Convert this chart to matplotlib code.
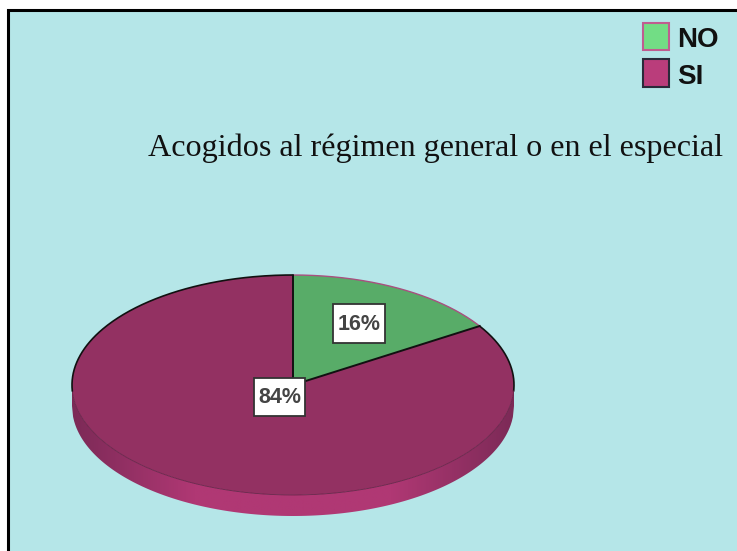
import matplotlib
matplotlib.use("Agg")
import matplotlib.pyplot as plt
import numpy as np
from matplotlib.patches import Rectangle

labels = ["NO", "SI"]
values = [16, 84]
pct_labels = ["16%", "84%"]
title = "Acogidos al régimen general o en el especial"

W, H = 737, 551
bg = "#B5E6E8"
top_colors = ["#58AC68", "#933162"]
legend_colors = ["#72DD85", "#BA3D7B"]
legend_edges = ["#C05C90", "#2A2A3A"]
rim_dark = np.array([0x7C, 0x2A, 0x57]) / 255
rim_light = np.array([0xB0, 0x38, 0x74]) / 255

cx, cy, rx, ry, depth = 293, 385, 221, 110, 21


def px_x(x):
    return x / W


def px_y(y):
    return 1 - y / H


def draw_rim(ax, d):
    # side of the disc, gradient clipped to the strip under the lower half
    xs = np.linspace(-1, 1, 400)
    low = -np.sqrt(1 - xs ** 2)
    rim = ax.fill_between(xs, low - d, low, color="none", lw=0)
    t = np.clip((1 - np.abs(xs)) * 1.8, 0, 1)[None, :, None]
    grad = rim_dark + (rim_light - rim_dark) * t
    im = ax.imshow(grad, extent=(-1, 1, -1 - d, 0), aspect="auto", zorder=1)
    im.set_clip_path(rim.get_paths()[0], transform=ax.transData)


def arc(ax, a0, a1, color, lw):
    t = np.deg2rad(np.linspace(a0, a1, 200))
    ax.plot(np.cos(t), np.sin(t), color=color, lw=lw, zorder=4, clip_on=False)


def draw_outline(ax):
    # edge of the top face: black on the upper part, faint along the bottom
    split = 90 - 360 * values[0] / sum(values)
    arc(ax, 90, split, "#A8507F", 1.0)
    arc(ax, split, -3, "#111111", 1.2)
    arc(ax, -3, -177, "#6A2248", 0.6)
    arc(ax, -177, -270, "#111111", 1.2)
    for ang in (90, split):
        r = np.deg2rad(ang)
        ax.plot([0, np.cos(r)], [0, np.sin(r)], color="#111111", lw=1.4, zorder=4)


def pct_box(fig, x0, y0, x1, y1, text):
    fig.add_artist(Rectangle((px_x(x0), px_y(y1)), (x1 - x0) / W, (y1 - y0) / H,
                             transform=fig.transFigure, facecolor="white",
                             edgecolor="#333333", lw=1.3, zorder=3))
    fig.text(px_x((x0 + x1) / 2), px_y((y0 + y1) / 2 + 0.5), text, ha="center", va="center",
             fontsize=15.5, family="Liberation Sans", weight="bold", color="#444444", zorder=4)


def main():
    fig = plt.figure(figsize=(W / 100, H / 100), dpi=100, facecolor="white")

    # panel with black border, runs off the right and bottom of the picture
    fig.add_artist(Rectangle((px_x(8), px_y(H + 10)), 1, px_y(9.5) - px_y(H + 10),
                             transform=fig.transFigure, facecolor=bg,
                             edgecolor="black", lw=2.2, zorder=-1))

    ax = fig.add_axes([px_x(cx - rx), px_y(cy + ry + depth), 2 * rx / W, (2 * ry + depth) / H])
    ax.patch.set_alpha(0)
    d = depth / ry
    draw_rim(ax, d)
    ax.pie(values, startangle=90, counterclock=False, colors=top_colors,
           center=(0, 0), radius=1, wedgeprops={"linewidth": 0, "zorder": 2})
    draw_outline(ax)
    ax.set_aspect("auto")
    ax.set_xlim(-1, 1)
    ax.set_ylim(-1 - d, 1)
    ax.set_axis_off()

    # white percentage boxes
    pct_box(fig, 333, 304, 385, 343, pct_labels[0])
    pct_box(fig, 254, 378, 305, 416, pct_labels[1])

    fig.text(px_x(148), px_y(148), title, ha="left", va="center", fontsize=23.1,
             family="Liberation Serif", color="#111111")

    # legend squares
    for i, name in enumerate(labels):
        top = 23 + i * 36.5
        fig.add_artist(Rectangle((px_x(643), px_y(top + 27)), 26 / W, 27 / H,
                                 transform=fig.transFigure, facecolor=legend_colors[i],
                                 edgecolor=legend_edges[i], lw=1.5))
        fig.text(px_x(677), px_y(top + 17), name, ha="left", va="center", fontsize=20,
                 family="Liberation Sans", weight="bold", color="#111111")

    fig.savefig("out.png", dpi=100, facecolor="white")


main()
